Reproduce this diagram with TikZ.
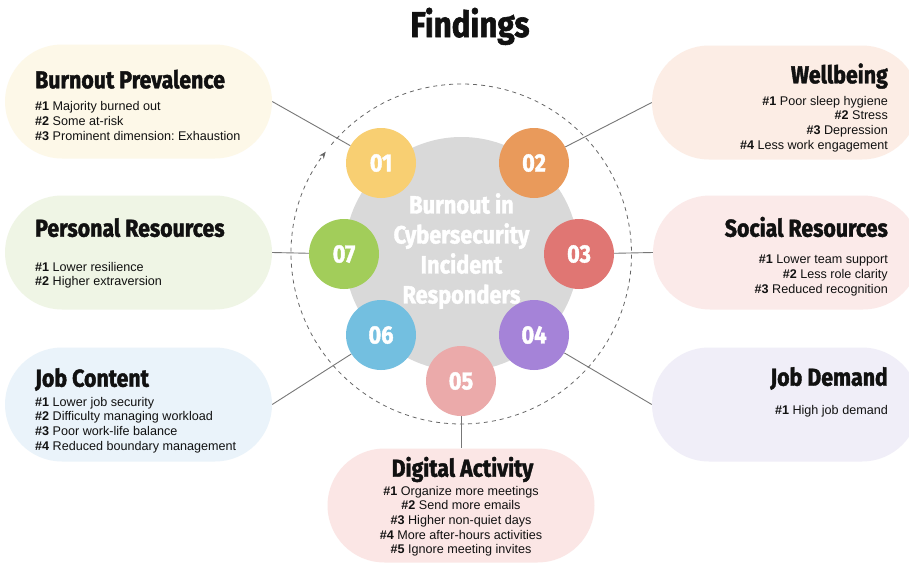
\documentclass[tikz,border=0pt]{standalone}
\usepackage{fontspec}
\setmainfont{Liberation Sans}
\newfontfamily\headfont{Fira Sans}[FakeStretch=0.87, BoldFeatures={FakeBold=1.6}]
\usetikzlibrary{backgrounds,arrows.meta}
\definecolor{bpcol}{HTML}{FDF8E8}
\definecolor{wbcol}{HTML}{FCEDE5}
\definecolor{prcol}{HTML}{EFF5E5}
\definecolor{srcol}{HTML}{FBEAE9}
\definecolor{jccol}{HTML}{EAF3FA}
\definecolor{jdcol}{HTML}{F0EEF8}
\definecolor{dacol}{HTML}{FBE6E5}
\definecolor{corecol}{HTML}{D9D9D9}
\definecolor{onecol}{HTML}{F8CF72}
\definecolor{twocol}{HTML}{E99A5B}
\definecolor{threecol}{HTML}{E07673}
\definecolor{fourcol}{HTML}{A583D8}
\definecolor{fivecol}{HTML}{EBAAAA}
\definecolor{sixcol}{HTML}{73BFE0}
\definecolor{sevencol}{HTML}{A2CD5A}
\definecolor{linecol}{HTML}{777777}
\definecolor{dashcol}{HTML}{666666}
\definecolor{inkcol}{HTML}{111111}
\frenchspacing
\begin{document}
\begin{tikzpicture}[x=1pt,y=-1pt,
  pill/.style={rounded corners=57pt, minimum width=267pt, minimum height=114pt, inner sep=0pt},
  headtext/.style={inner sep=0pt, text=inkcol, font=\headfont\bfseries\fontsize{24.5}{28}\selectfont},
  bodytext/.style={inner sep=0pt, text=inkcol, font=\fontsize{12.6}{14.6}\selectfont},
  numdisc/.style={circle, minimum size=70pt, inner sep=0pt, text=white, font=\headfont\bfseries\fontsize{25}{28}\selectfont},
  conn/.style={draw=linecol, line width=0.9pt},
  dashring/.style={draw=dashcol, line width=0.8pt, dash pattern=on 4pt off 4pt}]
\useasboundingbox (0,0) rectangle (909,562);
\begin{pgfonlayer}{background}
\fill[white] (0,0) rectangle (909,562);
\end{pgfonlayer}
\clip (0,0) rectangle (909,562);

% title
\node[inner sep=0pt, text=inkcol, font=\headfont\bfseries\fontsize{36}{40}\selectfont, anchor=base] (title) at (470,37) {Findings};

% boxes
\node[pill, fill=bpcol] (bp) at (138.5,101.5) {};
\node[pill, fill=wbcol] (wb) at (785.5,102.5) {};
\node[pill, fill=prcol] (pr) at (138.5,252.5) {};
\node[pill, fill=srcol] (sr) at (786.5,252.5) {};
\node[pill, fill=jccol] (jc) at (138.5,404.5) {};
\node[pill, fill=jdcol] (jd) at (785.5,404.5) {};
\node[pill, fill=dacol] (da) at (461,505.5) {};

% headings
\node[headtext, anchor=base west] (bph) at (35,88.3) {Burnout Prevalence};
\node[headtext, anchor=base east] (wbh) at (888,83.3) {Wellbeing};
\node[headtext, anchor=base west] (prh) at (35,236.7) {Personal Resources};
\node[headtext, anchor=base east] (srh) at (888,236.7) {Social Resources};
\node[headtext, anchor=base west] (jch) at (35,386.7) {Job Content};
\node[headtext, anchor=base east] (jdh) at (888,385.7) {Job Demand};
\node[headtext, anchor=base] (dah) at (462.5,476.7) {Digital Activity};

% bodies
\node[bodytext, anchor=north west, align=left] (bpt) at (35,101.5)
  {\textbf{\#1} Majority burned out\\\textbf{\#2} Some at-risk\\\textbf{\#3} Prominent dimension: Exhaustion};
\node[bodytext, anchor=north east, align=right] (wbt) at (888,96)
  {\textbf{\#1} Poor sleep hygiene\\\textbf{\#2} Stress\\\textbf{\#3} Depression\\\textbf{\#4} Less work engagement};
\node[bodytext, anchor=north west, align=left] (prt) at (35,262)
  {\textbf{\#1} Lower resilience\\\textbf{\#2} Higher extraversion};
\node[bodytext, anchor=north east, align=right] (srt) at (888,255)
  {\textbf{\#1} Lower team support\\\textbf{\#2} Less role clarity\\\textbf{\#3} Reduced recognition};
\node[bodytext, anchor=north west, align=left] (jct) at (35,397)
  {\textbf{\#1} Lower job security\\\textbf{\#2} Difficulty managing workload\\\textbf{\#3} Poor work-life balance\\\textbf{\#4} Reduced boundary management};
\node[bodytext, anchor=north east, align=right] (jdt) at (888,405.5)
  {\textbf{\#1} High job demand};
\node[bodytext, anchor=north, align=center] (dat) at (461,486)
  {\textbf{\#1} Organize more meetings\\\textbf{\#2} Send more emails\\\textbf{\#3} Higher non-quiet days\\\textbf{\#4} More after-hours activities\\\textbf{\#5} Ignore meeting invites};

% core
\node[circle, fill=corecol, minimum size=234pt, inner sep=0pt] (core) at (461.5,254) {};
\node[inner sep=0pt, align=center, text=white, anchor=north, font=\headfont\bfseries\fontsize{25}{30}\selectfont] (coretext) at (461.5,193)
  {Burnout in\\Cybersecurity\\Incident\\Responders};

% numbered discs
\node[numdisc, fill=onecol] (c1) at (381,163) {01};
\node[numdisc, fill=twocol] (c2) at (534,163) {02};
\node[numdisc, fill=threecol] (c3) at (579,254) {03};
\node[numdisc, fill=fourcol] (c4) at (534,335) {04};
\node[numdisc, fill=fivecol] (c5) at (461,381) {05};
\node[numdisc, fill=sixcol] (c6) at (381,335) {06};
\node[numdisc, fill=sevencol] (c7) at (344,254) {07};

\begin{pgfonlayer}{background}
\draw[dashring, -{Stealth[length=7pt,width=5.5pt]}] ([shift={(-140:170)}]core.center) arc[start angle=-140, end angle=217, radius=170];
\draw[conn] (bp.east) -- (c1);
\draw[conn] (wb.west) -- (c2);
\draw[conn] (pr.east) -- (c7);
\draw[conn] (sr.west) -- (c3);
\draw[conn] (jc.east) -- (c6);
\draw[conn] (jd.west) -- (c4);
\draw[conn] (c5) -- (da.north);
\end{pgfonlayer}
\end{tikzpicture}
\end{document}
